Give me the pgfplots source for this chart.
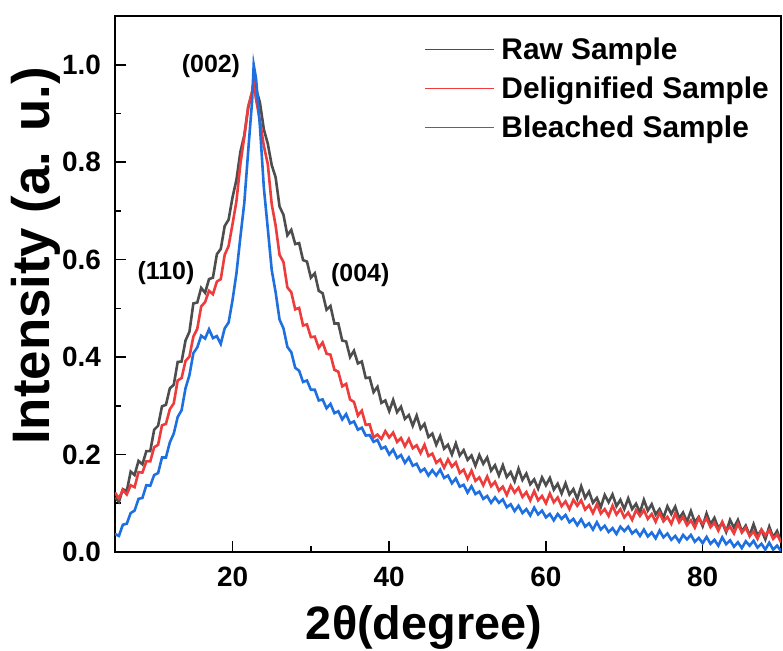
\documentclass[border=0pt]{standalone}
\usepackage{fontspec}
\setmainfont{Liberation Sans}
\usepackage{pgfplots}
\pgfplotsset{compat=1.18}

\definecolor{rawgray}{RGB}{77,77,77}
\definecolor{delred}{RGB}{238,59,59}
\definecolor{blblue}{RGB}{30,111,224}

\begin{document}
\begin{tikzpicture}
\begin{axis}[
  scale only axis,
  width=666bp, height=536bp,
  xmin=5, xmax=90, ymin=0, ymax=1.1,
  xtick={20,40,60,80},
  ytick={0,0.2,0.4,0.6,0.8,1.0},
  minor x tick num=1, minor y tick num=1,
  tick align=inside,
  xtick pos=bottom, ytick pos=left,
  major tick length=11bp, minor tick length=6bp,
  every tick/.style={black, line width=1.6bp},
  axis line style={line width=1.6bp},
  /pgf/number format/assume math mode=true,
  yticklabel={\pgfmathprintnumber[fixed,fixed zerofill,precision=1]{\tick}},
  tick label style={font=\fontsize{28}{28}\selectfont\bfseries, inner sep=0pt},
  yticklabel style={xshift=-14bp},
  xticklabel style={yshift=-15bp},
  xlabel={2θ(degree)},
  ylabel={Intensity (a. u.)},
  xlabel style={font=\fontsize{47}{47}\selectfont\bfseries, at={(axis description cs:0.464,-0.164)}, anchor=base},
  ylabel style={font=\fontsize{53}{53}\selectfont\bfseries, at={(axis description cs:-0.119,0.552)}, anchor=center, rotate=0},
  legend cell align=left,
  legend style={draw=none, fill=none, font=\fontsize{30}{30}\selectfont\bfseries,
    at={(rel axis cs:0.4643,0.972)}, anchor=north west, row sep=3bp,
    inner sep=0pt, nodes={inner sep=6.5bp}},
  legend image code/.code={\draw[#1] (0bp,0bp) -- (69bp,0bp);},
]
\addplot[rawgray, line width=2.6bp, forget plot] table {
5.0 0.112
5.5 0.103
6.0 0.129
6.5 0.125
7.0 0.165
7.5 0.158
8.0 0.187
8.5 0.180
9.0 0.207
9.5 0.207
10.0 0.251
10.5 0.259
11.0 0.299
11.5 0.302
12.0 0.336
12.5 0.343
13.0 0.390
13.5 0.391
14.0 0.434
14.5 0.452
15.0 0.510
15.5 0.512
16.0 0.542
16.5 0.532
17.0 0.560
17.5 0.563
18.0 0.611
18.5 0.622
19.0 0.669
19.5 0.682
20.0 0.728
20.5 0.764
21.0 0.821
21.5 0.855
22.0 0.912
22.5 0.943
22.7 0.968
23.0 0.951
23.5 0.922
24.0 0.867
24.5 0.838
25.0 0.794
25.5 0.769
26.0 0.709
26.5 0.692
27.0 0.650
27.5 0.661
28.0 0.632
28.5 0.634
29.0 0.599
29.5 0.596
30.0 0.563
30.5 0.572
31.0 0.536
31.5 0.531
32.0 0.497
32.5 0.505
33.0 0.469
33.5 0.469
34.0 0.434
34.5 0.432
35.0 0.400
35.5 0.413
36.0 0.387
36.5 0.391
37.0 0.357
37.5 0.358
38.0 0.328
38.5 0.339
39.0 0.306
39.5 0.311
40.0 0.289
40.5 0.312
41.0 0.287
41.5 0.298
42.0 0.273
42.5 0.281
43.0 0.259
43.5 0.280
44.0 0.253
44.5 0.263
45.0 0.236
45.5 0.243
46.0 0.220
46.5 0.238
47.0 0.212
47.5 0.220
48.0 0.200
48.5 0.223
49.0 0.198
49.5 0.209
50.0 0.189
50.5 0.198
51.0 0.177
51.5 0.199
52.0 0.181
52.5 0.194
53.0 0.167
53.5 0.178
54.0 0.157
54.5 0.178
55.0 0.154
55.5 0.164
56.0 0.145
56.5 0.171
57.0 0.148
57.5 0.161
58.0 0.139
58.5 0.149
59.0 0.130
59.5 0.153
60.0 0.137
60.5 0.152
61.0 0.128
61.5 0.140
62.0 0.120
62.5 0.141
63.0 0.118
63.5 0.129
64.0 0.109
64.5 0.135
65.0 0.111
65.5 0.124
66.0 0.101
66.5 0.111
67.0 0.092
67.5 0.117
68.0 0.102
68.5 0.118
69.0 0.094
69.5 0.107
70.0 0.088
70.5 0.110
71.0 0.088
71.5 0.099
72.0 0.081
72.5 0.107
73.0 0.085
73.5 0.098
74.0 0.077
74.5 0.088
75.0 0.070
75.5 0.094
76.0 0.078
76.5 0.093
77.0 0.069
77.5 0.081
78.0 0.062
78.5 0.084
79.0 0.061
79.5 0.072
80.0 0.053
80.5 0.079
81.0 0.057
81.5 0.070
82.0 0.049
82.5 0.060
83.0 0.041
83.5 0.066
84.0 0.050
84.5 0.066
85.0 0.042
85.5 0.054
86.0 0.034
86.5 0.057
87.0 0.034
87.5 0.045
88.0 0.026
88.5 0.052
89.0 0.030
89.5 0.043
90.0 0.021
};
\addplot[delred, line width=2.6bp, forget plot] table {
5.0 0.122
5.5 0.110
6.0 0.127
6.5 0.118
7.0 0.137
7.5 0.133
8.0 0.164
8.5 0.163
9.0 0.186
9.5 0.186
10.0 0.215
10.5 0.220
11.0 0.260
11.5 0.263
12.0 0.293
12.5 0.305
13.0 0.352
13.5 0.357
14.0 0.392
14.5 0.401
15.0 0.442
15.5 0.458
16.0 0.504
16.5 0.513
17.0 0.536
17.5 0.529
18.0 0.555
18.5 0.560
19.0 0.610
19.5 0.628
20.0 0.673
20.5 0.720
21.0 0.796
21.5 0.852
22.0 0.914
22.5 0.945
22.7 0.962
23.0 0.929
23.5 0.885
24.0 0.833
24.5 0.796
25.0 0.714
25.5 0.670
26.0 0.610
26.5 0.595
27.0 0.543
27.5 0.533
28.0 0.498
28.5 0.501
29.0 0.465
29.5 0.467
30.0 0.441
30.5 0.442
31.0 0.419
31.5 0.430
32.0 0.407
32.5 0.405
33.0 0.374
33.5 0.370
34.0 0.340
34.5 0.345
35.0 0.313
35.5 0.308
36.0 0.280
36.5 0.290
37.0 0.261
37.5 0.262
38.0 0.235
38.5 0.241
39.0 0.232
39.5 0.248
40.0 0.235
40.5 0.245
41.0 0.226
41.5 0.234
42.0 0.217
42.5 0.232
43.0 0.213
43.5 0.219
44.0 0.203
44.5 0.220
45.0 0.197
45.5 0.202
46.0 0.183
46.5 0.190
47.0 0.173
47.5 0.190
48.0 0.175
48.5 0.184
49.0 0.162
49.5 0.169
50.0 0.150
50.5 0.167
51.0 0.146
51.5 0.153
52.0 0.137
52.5 0.155
53.0 0.135
53.5 0.144
54.0 0.126
54.5 0.134
55.0 0.117
55.5 0.136
56.0 0.122
56.5 0.132
57.0 0.113
57.5 0.123
58.0 0.106
58.5 0.125
59.0 0.106
59.5 0.115
60.0 0.100
60.5 0.120
61.0 0.102
61.5 0.112
62.0 0.094
62.5 0.104
63.0 0.088
63.5 0.107
64.0 0.095
64.5 0.106
65.0 0.087
65.5 0.096
66.0 0.080
66.5 0.098
67.0 0.079
67.5 0.088
68.0 0.074
68.5 0.095
69.0 0.077
69.5 0.088
70.0 0.071
70.5 0.081
71.0 0.066
71.5 0.086
72.0 0.074
72.5 0.086
73.0 0.068
73.5 0.078
74.0 0.062
74.5 0.081
75.0 0.063
75.5 0.072
76.0 0.058
76.5 0.079
77.0 0.061
77.5 0.072
78.0 0.055
78.5 0.065
79.0 0.050
79.5 0.070
80.0 0.058
80.5 0.069
81.0 0.051
81.5 0.060
82.0 0.044
82.5 0.062
83.0 0.044
83.5 0.052
84.0 0.038
84.5 0.058
85.0 0.040
85.5 0.050
86.0 0.033
86.5 0.042
87.0 0.027
87.5 0.046
88.0 0.034
88.5 0.045
89.0 0.027
89.5 0.036
90.0 0.020
};
\addplot[blblue, line width=2.6bp, forget plot] table {
5.0 0.037
5.5 0.033
6.0 0.056
6.5 0.058
7.0 0.080
7.5 0.085
8.0 0.109
8.5 0.111
9.0 0.137
9.5 0.136
10.0 0.158
10.5 0.162
11.0 0.194
11.5 0.194
12.0 0.225
12.5 0.243
13.0 0.277
13.5 0.291
14.0 0.336
14.5 0.363
15.0 0.408
15.5 0.420
16.0 0.444
16.5 0.438
17.0 0.457
17.5 0.439
18.0 0.443
18.5 0.427
19.0 0.459
19.5 0.471
20.0 0.517
20.5 0.572
21.0 0.646
21.5 0.716
22.0 0.823
22.5 0.926
22.7 1.000
23.0 0.972
23.5 0.873
24.0 0.747
24.5 0.664
25.0 0.579
25.5 0.533
26.0 0.477
26.5 0.459
27.0 0.421
27.5 0.410
28.0 0.378
28.5 0.372
29.0 0.349
29.5 0.352
30.0 0.333
30.5 0.333
31.0 0.311
31.5 0.313
32.0 0.295
32.5 0.304
33.0 0.285
33.5 0.289
34.0 0.272
34.5 0.283
35.0 0.264
35.5 0.268
36.0 0.251
36.5 0.255
37.0 0.239
37.5 0.240
38.0 0.226
38.5 0.230
39.0 0.212
39.5 0.216
40.0 0.200
40.5 0.210
41.0 0.193
41.5 0.199
42.0 0.183
42.5 0.194
43.0 0.177
43.5 0.181
44.0 0.165
44.5 0.171
45.0 0.157
45.5 0.168
46.0 0.157
46.5 0.169
47.0 0.152
47.5 0.157
48.0 0.141
48.5 0.151
49.0 0.134
49.5 0.138
50.0 0.122
50.5 0.135
51.0 0.119
51.5 0.124
52.0 0.109
52.5 0.115
53.0 0.101
53.5 0.112
54.0 0.101
54.5 0.108
55.0 0.092
55.5 0.098
56.0 0.084
56.5 0.095
57.0 0.080
57.5 0.088
58.0 0.075
58.5 0.091
59.0 0.077
59.5 0.085
60.0 0.071
60.5 0.078
61.0 0.065
61.5 0.078
62.0 0.068
62.5 0.076
63.0 0.061
63.5 0.068
64.0 0.055
64.5 0.067
65.0 0.052
65.5 0.059
66.0 0.046
66.5 0.061
67.0 0.046
67.5 0.054
68.0 0.041
68.5 0.049
69.0 0.037
69.5 0.052
70.0 0.043
70.5 0.052
71.0 0.038
71.5 0.045
72.0 0.033
72.5 0.046
73.0 0.032
73.5 0.040
74.0 0.028
74.5 0.044
75.0 0.030
75.5 0.038
76.0 0.025
76.5 0.033
77.0 0.021
77.5 0.035
78.0 0.026
78.5 0.035
79.0 0.021
79.5 0.029
80.0 0.018
80.5 0.031
81.0 0.017
81.5 0.025
82.0 0.013
82.5 0.030
83.0 0.016
83.5 0.024
84.0 0.011
84.5 0.020
85.0 0.008
85.5 0.022
86.0 0.013
86.5 0.023
87.0 0.009
87.5 0.017
88.0 0.005
88.5 0.019
89.0 0.005
89.5 0.013
90.0 0.002
};
\addlegendimage{draw=rawgray, line width=1.5bp}
\addlegendentry{Raw Sample}
\addlegendimage{draw=delred, line width=1.5bp}
\addlegendentry{Delignified Sample}
\addlegendimage{draw=blblue, line width=1.5bp}
\addlegendentry{Bleached Sample}
\node[font=\fontsize{25}{25}\selectfont\bfseries] at (axis cs:17.25,0.998) {(002)};
\node[font=\fontsize{25}{25}\selectfont\bfseries] at (axis cs:11.5,0.573) {(110)};
\node[font=\fontsize{25}{25}\selectfont\bfseries] at (axis cs:36.3,0.569) {(004)};
\coordinate (sw) at (rel axis cs:0,0);
\coordinate (ne) at (rel axis cs:1,1);
\end{axis}
\pgfresetboundingbox
\path (sw) ++(-115bp,-98bp) rectangle ([xshift=2bp,yshift=16bp]ne);
\end{tikzpicture}
\end{document}
